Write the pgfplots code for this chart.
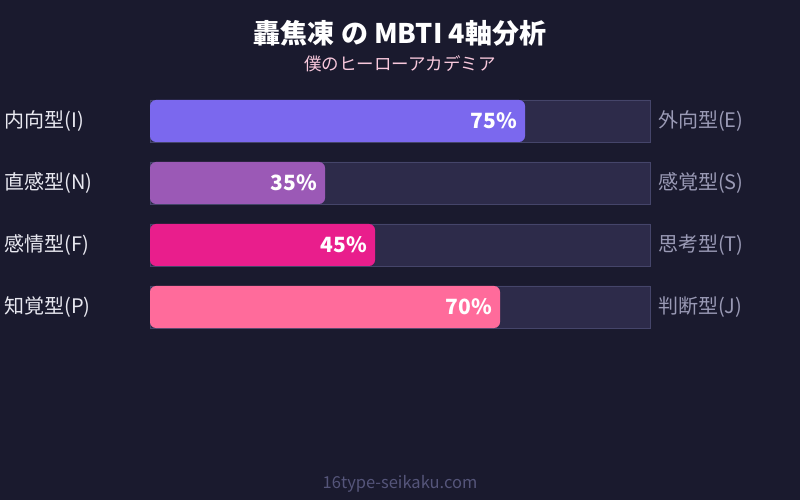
\documentclass[border=0pt]{standalone}
\usepackage{pgfplots}
\pgfplotsset{compat=1.18}
\usepackage{fontspec}
\setmainfont{Noto Sans CJK JP}
\definecolor{bg}{HTML}{1A1A2E}
\definecolor{track}{HTML}{2D2B4A}
\definecolor{trackline}{HTML}{45456A}
\definecolor{barI}{HTML}{7B68EE}
\definecolor{barN}{HTML}{9B59B6}
\definecolor{barF}{HTML}{E91E8C}
\definecolor{barP}{HTML}{FF6B9B}
\definecolor{subpink}{HTML}{F8C8DC}
\definecolor{lefttxt}{HTML}{E8E8F0}
\definecolor{righttxt}{HTML}{9A9AB5}
\definecolor{foot}{HTML}{55557A}
\begin{document}
\begin{tikzpicture}
\fill[bg] (0,0) rectangle (800pt,500pt);
\node[text=white,font=\fontsize{27}{32}\selectfont\bfseries] at (400pt,467pt) {轟焦凍 の MBTI 4軸分析};
\node[text=subpink,font=\fontsize{17.5}{21}\selectfont] at (400pt,436pt) {僕のヒーローアカデミア};
\node[text=foot,font=\fontsize{16.5}{20}\selectfont] at (400pt,16pt) {16type-seikaku.com};
\begin{axis}[
  at={(150pt,162pt)}, anchor=south west,
  scale only axis, width=500pt, height=248pt,
  xmin=0, xmax=100, ymin=0.5, ymax=4.5,
  y dir=reverse,
  axis lines=none, clip=false,
  /pgf/number format/assume math mode=true,
  xbar, bar width=42pt, bar shift=0pt,
  nodes near coords={\pgfmathprintnumber{\pgfplotspointmeta}\%},
  every node near coord/.append style={anchor=east,inner sep=0pt,xshift=-8pt,text=white,
    font=\fontsize{21}{25}\selectfont\bfseries},
]
\addplot[fill=track,draw=trackline,nodes near coords={}] coordinates {(100,1) (100,2) (100,3) (100,4)};
\addplot[fill=barI,draw=none,rounded corners=6pt] coordinates {(75,1)};
\addplot[fill=barN,draw=none,rounded corners=6pt] coordinates {(35,2)};
\addplot[fill=barF,draw=none,rounded corners=6pt] coordinates {(45,3)};
\addplot[fill=barP,draw=none,rounded corners=6pt] coordinates {(70,4)};
\begin{scope}[font=\fontsize{20}{24}\selectfont]
\node[anchor=west,text=lefttxt] at (axis cs:-29.8,1) {内向型(I)};
\node[anchor=west,text=lefttxt] at (axis cs:-29.8,2) {直感型(N)};
\node[anchor=west,text=lefttxt] at (axis cs:-29.8,3) {感情型(F)};
\node[anchor=west,text=lefttxt] at (axis cs:-29.8,4) {知覚型(P)};
\node[anchor=west,text=righttxt] at (axis cs:100.9,1) {外向型(E)};
\node[anchor=west,text=righttxt] at (axis cs:100.9,2) {感覚型(S)};
\node[anchor=west,text=righttxt] at (axis cs:100.9,3) {思考型(T)};
\node[anchor=west,text=righttxt] at (axis cs:100.9,4) {判断型(J)};
\end{scope}
\end{axis}
\end{tikzpicture}
\end{document}
